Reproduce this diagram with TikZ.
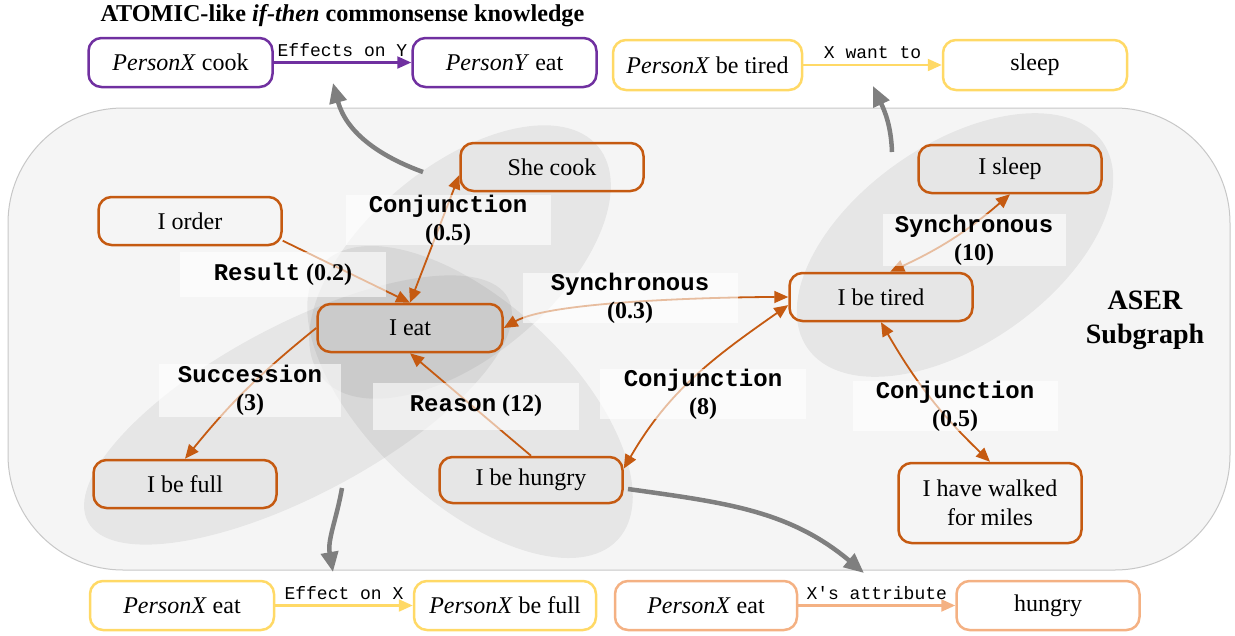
\documentclass[tikz,border=0pt]{standalone}
\usepackage{fontspec}
\setmainfont{Liberation Serif}
\setmonofont{Liberation Mono}
\usetikzlibrary{arrows.meta}
\definecolor{aser}{HTML}{C55A11}
\definecolor{atpurple}{HTML}{7030A0}
\definecolor{atyellow}{HTML}{FFD966}
\definecolor{atsalmon}{HTML}{F4B183}
\definecolor{linkgray}{HTML}{7F7F7F}
\definecolor{panel}{HTML}{F5F5F5}
\newcommand{\relname}[1]{{\fontsize{24}{28}\selectfont\ttfamily\bfseries #1}}
\begin{document}
\begin{tikzpicture}[x=1pt, y=-1pt,
    ev/.style={draw=aser, line width=2.5pt, rounded corners=13pt, minimum width=183pt, minimum height=48pt, align=center, font=\fontsize{24}{29}\selectfont},
    kb/.style={draw=#1, line width=2.5pt, rounded corners=13pt, minimum width=184pt, minimum height=49pt, font=\fontsize{24}{29}\selectfont},
    blob/.style={fill=black, fill opacity=0.06},
    rel/.style={draw=aser, line width=1.8pt, >={Triangle[length=14pt,width=12pt]}},
    kbrel/.style={draw=#1, line width=2.2pt, -{Triangle[length=14pt,width=12pt]}},
    tag/.style={font=\fontsize{18}{20}\selectfont\ttfamily, inner sep=4pt},
    lab/.style={fill=white, fill opacity=0.6, text opacity=1, align=center, inner sep=0pt, font=\fontsize{24}{28}\selectfont\bfseries},
    link/.style={draw=linkgray, line width=4.5pt, -{Triangle[length=20pt,width=17pt]}}]
    \useasboundingbox (0,0) rectangle (1235,635);
    \draw[draw=black!22, fill=panel, line width=1pt, rounded corners=115pt] (8,108) rectangle (1230,570);
    \fill[blob, shift={(460,262)}, rotate=40] (0,0) ellipse [x radius=180, y radius=95];
    \fill[blob, shift={(298,410)}, rotate=28] (0,0) ellipse [x radius=238, y radius=85];
    \fill[blob, shift={(470,402)}, rotate=-43] (0,0) ellipse [x radius=202, y radius=100];
    \fill[blob, shift={(955,245)}, rotate=35] (0,0) ellipse [x radius=180, y radius=100];
    \node[anchor=base west, font=\fontsize{24.2}{29}\selectfont\bfseries] (title) at (97,21) {ATOMIC-like \textit{if-then} commonsense knowledge};
    \node[kb=atpurple] (a0) at (180.5,62.5) {\textit{PersonX} cook};
    \node[kb=atpurple] (a1) at (504.5,62.5) {\textit{PersonY} eat};
    \node[kb=atyellow, minimum width=189pt, minimum height=50pt] (a2) at (707.5,65) {\textit{PersonX} be tired};
    \node[kb=atyellow, minimum height=50pt] (a3) at (1035,65) {sleep};
    \node[kb=atyellow] (b0) at (182,605.5) {\textit{PersonX} eat};
    \node[kb=atyellow, minimum width=182pt] (b1) at (505,605.5) {\textit{PersonX} be full};
    \node[kb=atsalmon, minimum width=182pt] (b2) at (706,605.5) {\textit{PersonX} eat};
    \node[kb=atsalmon, minimum width=183pt] (b3) at (1048,605.5) {hungry};
    \draw[kbrel=atpurple] (a0) -- node[tag, above=1pt] {Effects on Y} (a1);
    \draw[kbrel=atyellow] (a2) -- node[tag, above=1pt] {X want to} (a3);
    \draw[kbrel=atyellow] (b0) -- node[tag, above=1pt] {Effect on X} (b1);
    \draw[kbrel=atsalmon] (b2) -- node[tag, above=1pt] {X's attribute} (b3);
    \coordinate (g0) at (423,172);
    \coordinate (g1) at (333,83);
    \coordinate (g2) at (892,152);
    \coordinate (g3) at (873,86);
    \coordinate (g4) at (342,488);
    \coordinate (g5) at (333,572);
    \coordinate (g6) at (628,489);
    \coordinate (g7) at (864,573);
    \draw[link] (g0) to[out=160, in=-75] (g1);
    \draw[link] (g2) to[out=92, in=-65] (g3);
    \draw[link] (g4) to[out=-100, in=100] (g5);
    \draw[link] (g6) to[out=-8, in=140] (g7);
    \node[ev] (n0) at (190,221) {I order};
    \node[ev] (n1) at (552,167) {She cook};
    \node[ev, minimum width=185pt] (n2) at (410,328) {I eat};
    \node[ev] (n3) at (185,484) {I be full};
    \node[ev, minimum height=46pt] (n4) at (531,480) {I be hungry};
    \node[ev] (n5) at (1010,169) {I sleep};
    \node[ev] (n6) at (881,297) {I be tired};
    \node[ev, minimum height=80pt] (n7) at (990,503) {I have walked\\for miles};
    \draw[rel, ->] (n0.-12) -- (n2.north);
    \draw[rel, <->] (n2.north) -- (n1.185);
    \draw[rel, <->] (n2.east) to[out=30, in=180, looseness=0.5] (n6.west);
    \draw[rel, <->] (n4.7) to[out=60, in=215] (n6.185);
    \draw[rel, ->] (n4.north) -- (n2.south);
    \draw[rel, ->] (n2.west) to[bend right=6] (n3.north);
    \draw[rel, <->] (n6.70) to[bend right=8] (n5.south);
    \draw[rel, <->] (n6.south) to[bend right=8] (n7.north);
    \node[lab, minimum width=206pt, minimum height=45pt] (l0) at (283,274) {\relname{Result} (0.2)};
    \node[lab, minimum width=205pt, minimum height=46pt] (l1) at (448,220) {\relname{Conjunction}\\(0.5)};
    \node[lab, minimum width=215pt, minimum height=48pt] (l2) at (630,298) {\relname{Synchronous}\\(0.3)};
    \node[lab, minimum width=182pt, minimum height=53pt] (l3) at (250,390) {\relname{Succession}\\(3)};
    \node[lab, minimum width=206pt, minimum height=47pt] (l4) at (476,406) {\relname{Reason} (12)};
    \node[lab, minimum width=206pt, minimum height=44pt] (l5) at (703,394) {\relname{Conjunction}\\(8)};
    \node[lab, minimum width=183pt, minimum height=52pt] (l6) at (974,240) {\relname{Synchronous}\\(10)};
    \node[lab, minimum width=205pt, minimum height=47pt] (l7) at (955,406) {\relname{Conjunction}\\(0.5)};
    \node[align=center, font=\fontsize{28}{34}\selectfont\bfseries] (aser) at (1145,320) {ASER\\Subgraph};
\end{tikzpicture}
\end{document}
